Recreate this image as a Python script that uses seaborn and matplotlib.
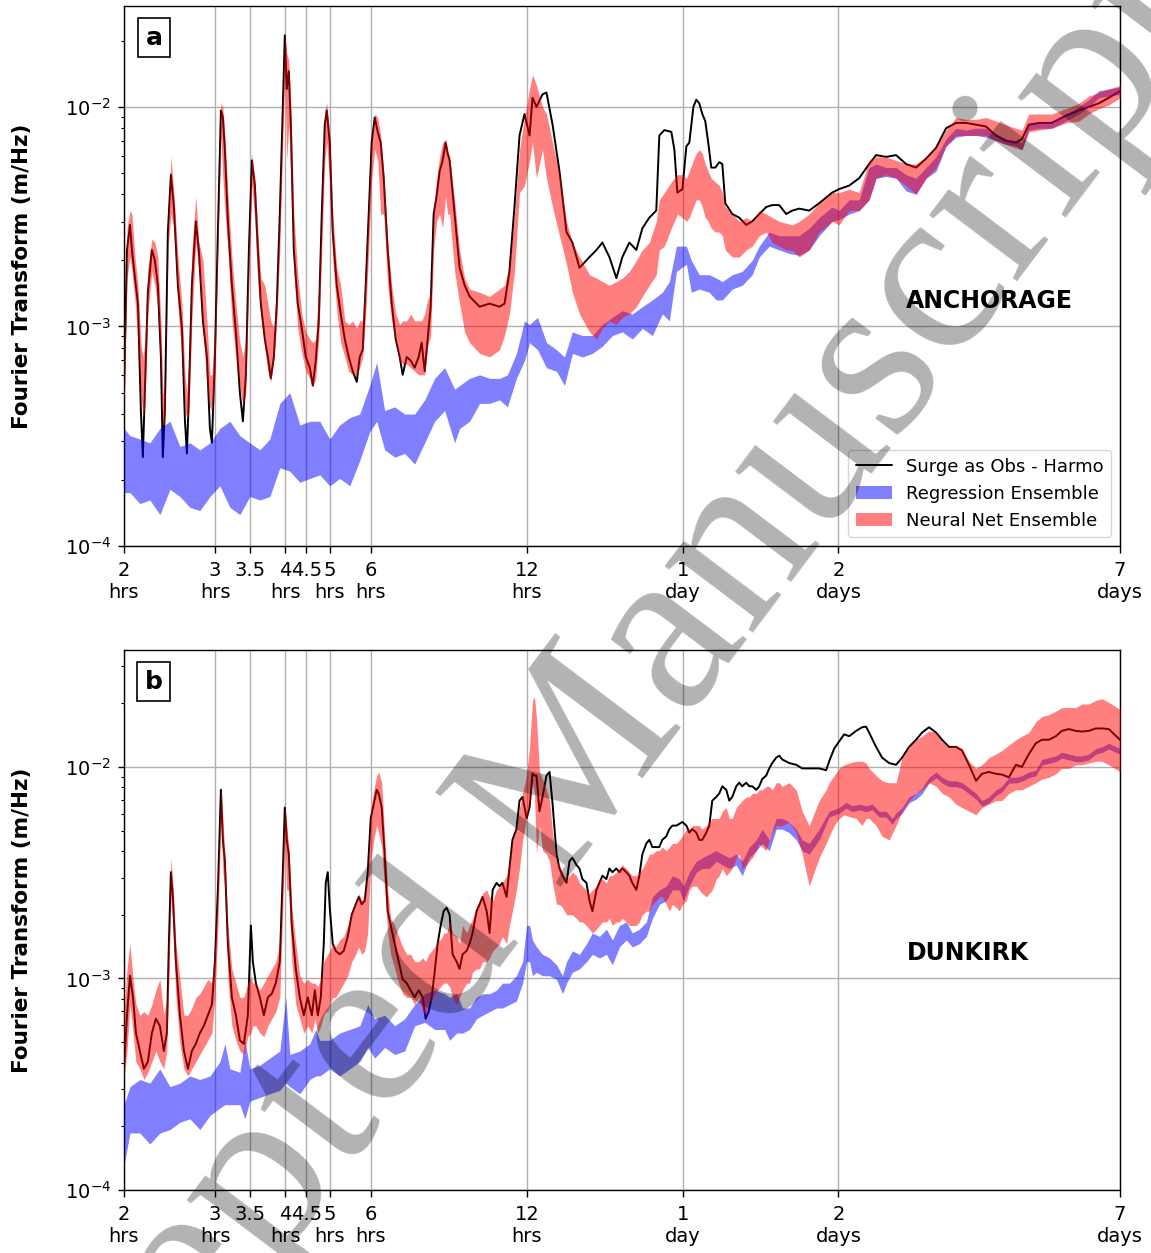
import matplotlib
matplotlib.use("Agg")
import matplotlib.pyplot as plt
import seaborn as sns
from matplotlib.ticker import NullLocator, NullFormatter, LogLocator

# ---------------- data (period in hours, spectral amplitude in m/Hz) ----------------
a_period = [2.000, 2.027, 2.054, 2.072, 2.100, 2.128, 2.156, 2.175, 2.194, 2.224,
            2.264, 2.294, 2.325, 2.357, 2.377, 2.399, 2.431, 2.464, 2.497, 2.542,
            2.588, 2.623, 2.646, 2.670, 2.705, 2.753, 2.790, 2.841, 2.892, 2.931,
            2.957, 2.997, 3.037, 3.078, 3.105, 3.133, 3.175, 3.232, 3.290, 3.349,
            3.394, 3.439, 3.486, 3.532, 3.580, 3.628, 3.676, 3.742, 3.793, 3.843,
            3.895, 3.947, 4.000, 4.054, 4.090, 4.126, 4.163, 4.201, 4.257, 4.333,
            4.411, 4.490, 4.571, 4.632, 4.694, 4.757, 4.821, 4.886, 4.929, 4.995,
            5.062, 5.153, 5.245, 5.340, 5.435, 5.533, 5.633, 5.708, 5.784, 5.862,
            5.941, 6.020, 6.101, 6.183, 6.266, 6.350, 6.464, 6.580, 6.698, 6.818,
            6.909, 7.034, 7.160, 7.288, 7.419, 7.518, 7.620, 7.722, 7.825, 7.930,
            8.036, 8.144, 8.253, 8.364, 8.439, 8.514, 8.706, 8.901, 9.101, 9.305,
            9.728, 10.17, 10.63, 10.87, 11.11, 11.36, 11.62, 11.88, 12.15, 12.31,
            12.53, 12.87, 13.10, 13.46, 13.88, 14.32, 14.70, 15.17, 15.86, 16.36,
            16.80, 17.33, 17.88, 18.36, 18.94, 19.54, 20.07, 20.70, 21.35, 21.64,
            22.13, 22.83, 23.14, 23.45, 23.98, 24.41, 24.73, 25.18, 25.51, 25.85,
            26.20, 26.55, 26.90, 27.27, 27.76, 28.26, 28.64, 29.02, 29.94, 30.88,
            31.86, 32.72, 33.75, 34.82, 35.76, 36.89, 38.06, 39.09, 40.32, 42.15,
            44.07, 46.69, 48.16, 50.35, 52.64, 55.03, 56.77, 59.35, 62.04, 64.87,
            67.81, 70.89, 74.11, 77.48, 81.00, 84.68, 88.53, 92.55, 96.75, 101.1,
            105.7, 108.6, 112.0, 117.1, 124.0, 132.0, 139.9, 146.2, 152.9, 159.8,
            168.0]
a_obs = [4.99e-4, 2.23e-3, 2.90e-3, 2.23e-3, 1.66e-3, 1.27e-3, 4.14e-4, 2.54e-4, 4.99e-4, 1.43e-3,
         2.23e-3, 2.00e-3, 1.54e-3, 7.26e-4, 2.54e-4, 4.14e-4, 2.69e-3, 4.91e-3, 3.50e-3, 1.54e-3,
         9.8e-4, 3.70e-4, 2.64e-4, 4.99e-4, 1.54e-3, 3.01e-3, 2.23e-3, 1.06e-3, 7.26e-4, 3.43e-4,
         2.95e-4, 7.26e-4, 2.69e-3, 9.63e-3, 8.94e-3, 6.38e-3, 3.01e-3, 1.54e-3, 9.44e-4, 4.99e-4,
         3.70e-4, 6.02e-4, 2.23e-3, 5.70e-3, 4.38e-3, 2.23e-3, 1.27e-3, 8.76e-4, 7.26e-4, 5.80e-4,
         7.26e-4, 1.27e-3, 3.25e-3, 1.0e-2, 2.115e-2, 1.206e-2, 1.455e-2, 8.29e-3, 2.23e-3, 1.27e-3,
         9.8e-4, 7.26e-4, 6.49e-4, 5.38e-4, 6.99e-4, 1.06e-3, 3.25e-3, 8.29e-3, 9.63e-3, 6.87e-3,
         2.69e-3, 1.54e-3, 1.14e-3, 8.76e-4, 7.26e-4, 6.25e-4, 5.59e-4, 7.26e-4, 7.83e-4, 1.54e-3,
         3.25e-3, 6.87e-3, 8.94e-3, 7.69e-3, 6.87e-3, 4.73e-3, 2.23e-3, 1.27e-3, 8.76e-4, 7.26e-4,
         6.02e-4, 7.26e-4, 6.99e-4, 6.49e-4, 7.26e-4, 8.44e-4, 6.25e-4, 8.76e-4, 1.23e-3, 3.25e-3,
         3.92e-3, 5.09e-3, 5.70e-3, 6.87e-3, 6.14e-3, 5.70e-3, 3.25e-3, 1.85e-3, 1.54e-3, 1.37e-3,
         1.23e-3, 1.27e-3, 1.23e-3, 1.27e-3, 1.78e-3, 3.50e-3, 7.41e-3, 9.28e-3, 7.41e-3, 1.10e-2,
         1.0e-2, 1.14e-2, 1.162e-2, 8.29e-3, 5.09e-3, 2.69e-3, 2.41e-3, 1.85e-3, 2.07e-3, 2.23e-3,
         2.41e-3, 2.07e-3, 1.66e-3, 2.07e-3, 2.41e-3, 2.23e-3, 2.80e-3, 3.13e-3, 3.37e-3, 7.41e-3,
         7.84e-3, 7.69e-3, 6.38e-3, 4.07e-3, 4.22e-3, 6.62e-3, 6.87e-3, 1.0e-2, 1.078e-2, 1.038e-2,
         9.28e-3, 8.61e-3, 6.87e-3, 5.29e-3, 5.29e-3, 5.60e-3, 5.49e-3, 3.64e-3, 3.25e-3, 3.13e-3,
         2.90e-3, 3.01e-3, 3.25e-3, 3.50e-3, 3.57e-3, 3.57e-3, 3.25e-3, 3.37e-3, 3.44e-3, 3.37e-3,
         3.64e-3, 4.07e-3, 4.22e-3, 4.38e-3, 4.73e-3, 5.49e-3, 6.03e-3, 5.92e-3, 6.03e-3, 5.49e-3,
         5.29e-3, 5.81e-3, 6.50e-3, 7.99e-3, 8.45e-3, 8.45e-3, 8.29e-3, 8.14e-3, 7.41e-3, 7.01e-3,
         6.87e-3, 7.14e-3, 8.29e-3, 8.45e-3, 8.45e-3, 9.11e-3, 9.63e-3, 1.0e-2, 1.038e-2, 1.10e-2,
         1.18e-2]
a_nn_hi = [7.26e-4, 2.80e-3, 3.37e-3, 3.25e-3, 2.07e-3, 1.54e-3, 8.44e-4, 7.26e-4, 8.44e-4, 1.85e-3,
           2.50e-3, 2.41e-3, 2.07e-3, 1.06e-3, 4.99e-4, 4.99e-4, 3.01e-3, 5.92e-3, 4.07e-3, 2.07e-3,
           1.27e-3, 6.02e-4, 4.99e-4, 7.26e-4, 2.23e-3, 3.92e-3, 2.41e-3, 2.00e-3, 1.06e-3, 6.02e-4,
           6.02e-4, 1.06e-3, 3.25e-3, 1.038e-2, 1.0e-2, 7.41e-3, 4.07e-3, 2.07e-3, 1.27e-3, 8.44e-4,
           7.26e-4, 8.76e-4, 2.69e-3, 6.14e-3, 4.73e-3, 2.69e-3, 1.66e-3, 1.54e-3, 1.27e-3, 1.06e-3,
           9.8e-4, 1.54e-3, 3.92e-3, 1.206e-2, 2.16e-2, 1.754e-2, 1.628e-2, 1.0e-2, 3.25e-3, 1.72e-3,
           1.14e-3, 9.44e-4, 8.76e-4, 8.44e-4, 8.76e-4, 1.54e-3, 3.92e-3, 9.63e-3, 1.038e-2, 7.41e-3,
           3.25e-3, 1.85e-3, 1.54e-3, 1.06e-3, 1.02e-3, 1.06e-3, 9.8e-4, 1.06e-3, 1.06e-3, 1.85e-3,
           3.92e-3, 7.41e-3, 9.28e-3, 8.94e-3, 7.41e-3, 5.09e-3, 2.41e-3, 1.54e-3, 1.14e-3, 1.02e-3,
           1.06e-3, 1.06e-3, 1.14e-3, 1.06e-3, 1.06e-3, 1.06e-3, 1.14e-3, 1.32e-3, 1.43e-3, 3.50e-3,
           4.73e-3, 5.92e-3, 6.87e-3, 7.14e-3, 6.38e-3, 5.92e-3, 3.77e-3, 2.23e-3, 1.66e-3, 1.48e-3,
           1.43e-3, 1.37e-3, 1.48e-3, 1.54e-3, 1.92e-3, 3.25e-3, 6.38e-3, 8.94e-3, 1.206e-2, 1.401e-2,
           1.252e-2, 1.0e-2, 9.28e-3, 6.87e-3, 4.91e-3, 3.01e-3, 2.41e-3, 2.07e-3, 1.72e-3, 1.66e-3,
           1.60e-3, 1.54e-3, 1.60e-3, 1.66e-3, 1.78e-3, 2.00e-3, 2.23e-3, 2.41e-3, 3.01e-3, 3.77e-3,
           4.07e-3, 4.55e-3, 4.73e-3, 4.91e-3, 4.91e-3, 4.73e-3, 5.09e-3, 5.70e-3, 6.14e-3, 6.38e-3,
           6.14e-3, 5.49e-3, 5.09e-3, 4.73e-3, 4.55e-3, 4.38e-3, 4.07e-3, 3.50e-3, 3.25e-3, 3.01e-3,
           3.13e-3, 3.01e-3, 3.37e-3, 3.25e-3, 3.13e-3, 3.01e-3, 2.95e-3, 2.90e-3, 3.01e-3, 3.25e-3,
           3.64e-3, 4.07e-3, 4.07e-3, 4.22e-3, 4.07e-3, 5.70e-3, 5.92e-3, 5.92e-3, 5.70e-3, 5.49e-3,
           5.49e-3, 5.92e-3, 6.62e-3, 7.84e-3, 8.94e-3, 8.77e-3, 8.77e-3, 8.94e-3, 8.61e-3, 8.29e-3,
           7.99e-3, 7.84e-3, 9.28e-3, 9.28e-3, 9.28e-3, 9.81e-3, 1.038e-2, 1.119e-2, 1.162e-2, 1.206e-2,
           1.252e-2]
a_nn_lo = [4.14e-4, 1.66e-3, 2.07e-3, 1.78e-3, 1.32e-3, 8.44e-4, 4.99e-4, 3.84e-4, 4.30e-4, 1.14e-3,
           1.78e-3, 1.54e-3, 1.23e-3, 5.80e-4, 3.43e-4, 3.70e-4, 2.23e-3, 3.25e-3, 2.80e-3, 1.23e-3,
           7.26e-4, 4.14e-4, 3.84e-4, 3.99e-4, 1.06e-3, 2.41e-3, 1.78e-3, 9.8e-4, 5.38e-4, 4.30e-4,
           4.14e-4, 6.02e-4, 2.23e-3, 7.41e-3, 4.73e-3, 3.37e-3, 2.23e-3, 1.06e-3, 7.26e-4, 5.38e-4,
           4.30e-4, 4.99e-4, 1.66e-3, 4.38e-3, 3.01e-3, 1.54e-3, 1.14e-3, 7.83e-4, 6.25e-4, 5.59e-4,
           6.99e-4, 1.06e-3, 2.23e-3, 6.87e-3, 1.455e-2, 5.70e-3, 8.29e-3, 4.73e-3, 1.78e-3, 9.8e-4,
           7.54e-4, 6.25e-4, 5.80e-4, 5.28e-4, 5.80e-4, 8.76e-4, 2.23e-3, 5.70e-3, 6.87e-3, 4.38e-3,
           2.00e-3, 1.18e-3, 8.44e-4, 7.26e-4, 6.25e-4, 6.02e-4, 6.02e-4, 6.49e-4, 7.26e-4, 1.14e-3,
           2.23e-3, 4.73e-3, 6.38e-3, 5.70e-3, 3.25e-3, 3.25e-3, 1.54e-3, 1.06e-3, 8.44e-4, 6.99e-4,
           6.74e-4, 6.74e-4, 6.49e-4, 6.25e-4, 6.02e-4, 6.02e-4, 6.02e-4, 8.13e-4, 9.09e-4, 2.23e-3,
           3.01e-3, 3.25e-3, 2.80e-3, 3.92e-3, 3.25e-3, 3.25e-3, 1.78e-3, 1.27e-3, 9.44e-4, 8.44e-4,
           7.54e-4, 7.26e-4, 7.83e-4, 9.09e-4, 1.14e-3, 1.78e-3, 4.07e-3, 4.38e-3, 5.70e-3, 6.87e-3,
           4.73e-3, 6.38e-3, 4.73e-3, 3.50e-3, 2.59e-3, 1.92e-3, 1.43e-3, 1.14e-3, 9.44e-4, 8.76e-4,
           9.8e-4, 1.06e-3, 1.02e-3, 1.10e-3, 1.14e-3, 1.23e-3, 1.37e-3, 1.54e-3, 1.72e-3, 2.23e-3,
           2.32e-3, 2.80e-3, 3.01e-3, 3.25e-3, 3.13e-3, 3.01e-3, 3.13e-3, 3.50e-3, 3.77e-3, 3.77e-3,
           3.50e-3, 3.13e-3, 3.01e-3, 2.80e-3, 2.69e-3, 2.69e-3, 2.59e-3, 2.23e-3, 2.07e-3, 2.07e-3,
           2.23e-3, 2.32e-3, 2.59e-3, 2.69e-3, 2.41e-3, 2.32e-3, 2.23e-3, 2.23e-3, 2.07e-3, 2.23e-3,
           2.69e-3, 3.01e-3, 2.90e-3, 3.37e-3, 3.37e-3, 3.77e-3, 4.73e-3, 4.91e-3, 4.73e-3, 4.38e-3,
           4.00e-3, 4.73e-3, 5.29e-3, 6.62e-3, 7.41e-3, 7.41e-3, 7.41e-3, 7.41e-3, 7.01e-3, 6.75e-3,
           6.50e-3, 6.38e-3, 7.69e-3, 7.84e-3, 7.99e-3, 8.45e-3, 8.61e-3, 9.28e-3, 9.81e-3, 1.02e-2,
           1.10e-2]

a_reg_period = [2.000, 2.054, 2.146, 2.244, 2.346, 2.453, 2.565, 2.681, 2.803, 2.931,
                3.064, 3.203, 3.349, 3.501, 3.660, 3.826, 4.000, 4.182, 4.372, 4.571,
                4.778, 4.995, 5.222, 5.460, 5.708, 5.967, 6.156, 6.378, 6.669, 6.971,
                7.288, 7.620, 7.965, 8.327, 8.706, 8.901, 9.305, 9.728, 10.17, 10.63,
                11.01, 11.46, 11.88, 12.15, 12.59, 13.10, 13.70, 14.19, 14.70, 15.37,
                16.07, 16.80, 17.56, 18.36, 19.19, 20.07, 20.98, 21.93, 22.63, 23.35,
                24.41, 24.95, 25.85, 27.03, 27.88, 28.64, 29.94, 31.29, 32.72, 33.75,
                35.29, 36.89, 38.57, 40.32, 42.15, 44.07, 46.69, 48.16, 50.35, 52.64,
                55.03, 56.77, 59.35, 62.04, 64.87, 67.81, 70.89, 74.11, 77.48, 81.00,
                84.68, 88.53, 92.55, 96.75, 101.1, 105.7, 108.6, 112.0, 117.1, 124.0,
                132.0, 139.9, 146.2, 152.9, 159.8, 168.0]
a_reg_hi = [3.43e-4, 3.18e-4, 3.07e-4, 2.95e-4, 3.43e-4, 3.70e-4, 2.84e-4, 2.95e-4, 2.74e-4, 2.95e-4,
            3.43e-4, 3.70e-4, 3.18e-4, 2.95e-4, 2.74e-4, 3.07e-4, 4.46e-4, 4.99e-4, 3.56e-4, 3.70e-4,
            3.70e-4, 3.07e-4, 3.56e-4, 3.84e-4, 3.99e-4, 5.38e-4, 6.86e-4, 4.14e-4, 4.30e-4, 3.99e-4,
            3.99e-4, 4.63e-4, 5.80e-4, 6.49e-4, 5.18e-4, 5.38e-4, 5.80e-4, 6.02e-4, 5.80e-4, 5.80e-4,
            6.02e-4, 7.54e-4, 1.06e-3, 1.02e-3, 1.10e-3, 8.44e-4, 7.83e-4, 7.26e-4, 9.44e-4, 9.09e-4,
            9.09e-4, 1.02e-3, 1.10e-3, 1.18e-3, 1.14e-3, 1.23e-3, 1.32e-3, 1.43e-3, 1.60e-3, 2.32e-3,
            2.32e-3, 2.00e-3, 1.72e-3, 1.72e-3, 1.66e-3, 1.60e-3, 1.72e-3, 1.78e-3, 2.00e-3, 2.32e-3,
            2.69e-3, 2.59e-3, 2.59e-3, 2.59e-3, 2.80e-3, 3.13e-3, 3.50e-3, 3.37e-3, 3.77e-3, 3.77e-3,
            5.29e-3, 5.49e-3, 5.29e-3, 5.29e-3, 4.91e-3, 4.73e-3, 5.29e-3, 5.92e-3, 7.14e-3, 7.99e-3,
            7.84e-3, 7.99e-3, 7.99e-3, 7.55e-3, 7.14e-3, 7.01e-3, 6.87e-3, 8.45e-3, 8.45e-3, 8.61e-3,
            9.28e-3, 1.0e-2, 1.078e-2, 1.184e-2, 1.206e-2, 1.23e-2]
a_reg_lo = [1.75e-4, 1.75e-4, 1.56e-4, 1.62e-4, 1.39e-4, 1.81e-4, 1.68e-4, 1.50e-4, 1.45e-4, 1.68e-4,
            1.88e-4, 1.50e-4, 1.39e-4, 1.68e-4, 1.62e-4, 1.68e-4, 2.27e-4, 2.19e-4, 1.95e-4, 2.03e-4,
            2.11e-4, 1.88e-4, 2.03e-4, 1.88e-4, 2.45e-4, 3.31e-4, 3.70e-4, 2.74e-4, 2.54e-4, 2.64e-4,
            2.36e-4, 2.95e-4, 3.70e-4, 4.14e-4, 2.95e-4, 3.43e-4, 3.70e-4, 4.46e-4, 4.46e-4, 4.63e-4,
            4.30e-4, 5.80e-4, 6.99e-4, 8.44e-4, 7.83e-4, 6.49e-4, 6.25e-4, 5.38e-4, 7.54e-4, 7.26e-4,
            7.54e-4, 8.13e-4, 9.09e-4, 9.44e-4, 8.76e-4, 9.8e-4, 9.09e-4, 1.14e-3, 1.06e-3, 1.78e-3,
            1.92e-3, 1.43e-3, 1.48e-3, 1.43e-3, 1.32e-3, 1.32e-3, 1.48e-3, 1.54e-3, 1.72e-3, 2.07e-3,
            2.32e-3, 2.23e-3, 2.15e-3, 2.11e-3, 2.23e-3, 2.59e-3, 3.01e-3, 3.07e-3, 3.25e-3, 3.37e-3,
            3.77e-3, 4.73e-3, 4.82e-3, 4.73e-3, 4.14e-3, 4.00e-3, 4.73e-3, 5.09e-3, 6.62e-3, 7.28e-3,
            7.41e-3, 7.41e-3, 7.28e-3, 7.01e-3, 6.75e-3, 6.62e-3, 6.38e-3, 7.84e-3, 7.99e-3, 7.99e-3,
            8.61e-3, 9.28e-3, 1.0e-2, 1.10e-2, 1.119e-2, 1.14e-2]

b_period = [2.000, 2.027, 2.054, 2.082, 2.109, 2.146, 2.185, 2.224, 2.264, 2.305,
            2.346, 2.388, 2.420, 2.442, 2.464, 2.486, 2.519, 2.565, 2.611, 2.658,
            2.705, 2.753, 2.803, 2.853, 2.904, 2.957, 2.997, 3.037, 3.078, 3.105,
            3.133, 3.175, 3.232, 3.290, 3.349, 3.409, 3.470, 3.517, 3.548, 3.596,
            3.660, 3.726, 3.793, 3.860, 3.929, 4.000, 4.054, 4.090, 4.126, 4.163,
            4.219, 4.295, 4.372, 4.451, 4.530, 4.612, 4.674, 4.737, 4.800, 4.864,
            4.907, 4.951, 4.995, 5.062, 5.130, 5.222, 5.316, 5.411, 5.509, 5.607,
            5.683, 5.759, 5.836, 5.915, 5.994, 6.074, 6.156, 6.210, 6.294, 6.378,
            6.464, 6.551, 6.669, 6.788, 6.909, 7.034, 7.160, 7.288, 7.419, 7.552,
            7.653, 7.756, 7.859, 7.965, 8.072, 8.181, 8.291, 8.401, 8.514, 8.628,
            8.783, 8.901, 9.020, 9.182, 9.305, 9.430, 9.599, 9.728, 9.858, 10.04,
            10.17, 10.31, 10.49, 10.63, 10.77, 10.97, 11.11, 11.26, 11.46, 11.62,
            11.78, 11.99, 12.15, 12.31, 12.42, 12.53, 12.70, 12.87, 13.10, 13.28,
            13.46, 13.70, 13.88, 14.07, 14.32, 14.51, 14.70, 14.97, 15.17, 15.37,
            15.65, 15.86, 16.07, 16.36, 16.58, 16.80, 17.10, 17.33, 17.56, 17.88,
            18.12, 18.36, 18.69, 18.94, 19.19, 19.54, 19.80, 20.07, 20.43, 20.70,
            20.98, 21.35, 21.64, 21.93, 22.32, 22.63, 22.93, 23.35, 23.66, 23.98,
            24.41, 24.73, 25.06, 25.51, 25.85, 26.20, 26.67, 27.03, 27.39, 27.88,
            28.26, 28.64, 29.15, 29.54, 29.94, 30.47, 30.88, 31.29, 31.86, 32.29,
            32.72, 33.31, 33.75, 34.20, 34.82, 35.29, 35.76, 36.40, 36.89, 37.38,
            38.57, 39.79, 40.86, 42.15, 44.07, 45.46, 46.07, 47.11, 48.16, 49.24,
            50.35, 51.94, 53.35, 54.30, 55.03, 56.77, 58.30, 60.14, 62.04, 63.72,
            65.73, 67.81, 69.64, 71.84, 74.11, 76.12, 78.52, 81.00, 83.19, 85.82,
            88.53, 90.91, 93.79, 96.75, 99.36, 102.5, 105.7, 108.6, 112.0, 115.5,
            118.7, 122.4, 126.3, 129.7, 133.8, 138.0, 141.8, 146.2, 150.8, 154.9,
            159.8, 168.0]
b_obs = [3.74e-4, 6.70e-4, 1.03e-3, 8.14e-4, 5.52e-4, 4.54e-4, 3.74e-4, 4.04e-4, 5.52e-4, 6.45e-4,
         5.97e-4, 4.54e-4, 5.52e-4, 1.46e-3, 3.18e-3, 2.43e-3, 1.20e-3, 6.70e-4, 4.54e-4, 3.74e-4,
         4.54e-4, 4.91e-4, 5.52e-4, 5.97e-4, 6.70e-4, 7.53e-4, 1.20e-3, 2.62e-3, 7.79e-3, 4.52e-3,
         3.58e-3, 1.46e-3, 8.14e-4, 6.70e-4, 5.10e-4, 4.91e-4, 6.70e-4, 1.78e-3, 1.20e-3, 9.5e-4,
         8.14e-4, 6.70e-4, 8.14e-4, 8.47e-4, 9.5e-4, 1.20e-3, 3.18e-3, 6.42e-3, 4.52e-3, 3.87e-3,
         1.78e-3, 1.11e-3, 8.14e-4, 6.70e-4, 8.14e-4, 6.70e-4, 8.80e-4, 6.70e-4, 8.14e-4, 1.46e-3,
         2.83e-3, 3.18e-3, 2.16e-3, 1.46e-3, 1.35e-3, 1.30e-3, 1.35e-3, 1.58e-3, 2.00e-3, 2.24e-3,
         2.43e-3, 2.24e-3, 2.33e-3, 3.18e-3, 5.71e-3, 6.67e-3, 7.79e-3, 7.50e-3, 6.42e-3, 3.87e-3,
         2.08e-3, 1.78e-3, 1.46e-3, 1.20e-3, 9.9e-4, 9.5e-4, 8.80e-4, 8.14e-4, 8.80e-4, 8.14e-4,
         6.45e-4, 6.97e-4, 8.14e-4, 1.07e-3, 1.46e-3, 1.78e-3, 2.08e-3, 2.16e-3, 2.00e-3, 1.30e-3,
         1.20e-3, 1.11e-3, 1.30e-3, 1.35e-3, 1.46e-3, 1.64e-3, 2.08e-3, 2.24e-3, 2.43e-3, 2.08e-3,
         1.64e-3, 2.62e-3, 2.83e-3, 2.73e-3, 2.83e-3, 2.43e-3, 3.31e-3, 4.52e-3, 5.08e-3, 6.93e-3,
         7.21e-3, 5.71e-3, 6.42e-3, 9.3e-3, 9.10e-3, 9.10e-3, 6.17e-3, 7.21e-3, 9.10e-3, 9.46e-3,
         6.67e-3, 3.87e-3, 3.31e-3, 3.06e-3, 2.83e-3, 3.58e-3, 3.72e-3, 3.44e-3, 3.31e-3, 2.95e-3,
         2.83e-3, 2.33e-3, 2.08e-3, 2.62e-3, 2.83e-3, 3.06e-3, 2.95e-3, 3.31e-3, 3.18e-3, 3.31e-3,
         3.18e-3, 3.31e-3, 3.18e-3, 3.06e-3, 2.83e-3, 2.62e-3, 3.06e-3, 3.87e-3, 4.35e-3, 4.52e-3,
         4.18e-3, 4.18e-3, 4.18e-3, 4.52e-3, 4.70e-3, 5.08e-3, 5.28e-3, 5.28e-3, 5.38e-3, 5.49e-3,
         5.28e-3, 4.89e-3, 5.08e-3, 4.89e-3, 4.52e-3, 4.52e-3, 4.89e-3, 5.28e-3, 6.93e-3, 7.21e-3,
         7.50e-3, 8.10e-3, 7.79e-3, 6.93e-3, 7.21e-3, 8.10e-3, 8.42e-3, 8.10e-3, 8.42e-3, 8.10e-3,
         8.10e-3, 7.79e-3, 8.10e-3, 8.76e-3, 9.10e-3, 9.84e-3, 1.043e-2, 1.106e-2, 1.13e-2, 1.085e-2,
         1.043e-2, 1.023e-2, 9.84e-3, 9.84e-3, 9.84e-3, 9.65e-3, 1.064e-2, 1.22e-2, 1.32e-2, 1.425e-2,
         1.397e-2, 1.48e-2, 1.54e-2, 1.55e-2, 1.453e-2, 1.243e-2, 1.106e-2, 1.043e-2, 1.023e-2, 1.106e-2,
         1.243e-2, 1.344e-2, 1.453e-2, 1.54e-2, 1.453e-2, 1.344e-2, 1.243e-2, 1.243e-2, 1.196e-2, 1.023e-2,
         8.6e-3, 9.28e-3, 9.46e-3, 9.28e-3, 9.2e-3, 8.93e-3, 1.023e-2, 1.0e-2, 1.150e-2, 1.293e-2,
         1.344e-2, 1.344e-2, 1.397e-2, 1.48e-2, 1.510e-2, 1.48e-2, 1.47e-2, 1.48e-2, 1.52e-2, 1.52e-2,
         1.510e-2, 1.344e-2]
b_nn_hi = [6.70e-4, 1.11e-3, 1.46e-3, 9.9e-4, 7.53e-4, 6.70e-4, 6.97e-4, 6.70e-4, 7.53e-4, 8.80e-4,
           9.9e-4, 6.70e-4, 8.14e-4, 1.78e-3, 3.72e-3, 2.83e-3, 1.46e-3, 9.9e-4, 6.70e-4, 6.70e-4,
           7.25e-4, 8.14e-4, 8.47e-4, 9.15e-4, 9.9e-4, 9.5e-4, 1.46e-3, 3.18e-3, 8.10e-3, 5.71e-3,
           3.87e-3, 1.78e-3, 1.11e-3, 9.5e-4, 8.14e-4, 8.14e-4, 9.5e-4, 1.03e-3, 9.5e-4, 9.5e-4,
           8.80e-4, 9.5e-4, 1.03e-3, 1.11e-3, 1.20e-3, 1.46e-3, 3.87e-3, 6.67e-3, 5.28e-3, 4.18e-3,
           2.16e-3, 1.46e-3, 1.03e-3, 9.5e-4, 9.9e-4, 9.5e-4, 9.5e-4, 9.15e-4, 9.9e-4, 1.20e-3,
           1.25e-3, 1.30e-3, 1.35e-3, 1.46e-3, 1.41e-3, 1.52e-3, 1.58e-3, 1.78e-3, 2.08e-3, 2.33e-3,
           2.52e-3, 2.33e-3, 2.43e-3, 3.31e-3, 6.17e-3, 7.79e-3, 9.10e-3, 9.46e-3, 8.42e-3, 4.70e-3,
           2.62e-3, 1.92e-3, 1.78e-3, 1.58e-3, 1.41e-3, 1.30e-3, 1.30e-3, 1.20e-3, 1.20e-3, 1.25e-3,
           1.20e-3, 1.30e-3, 1.35e-3, 1.41e-3, 1.52e-3, 1.52e-3, 1.64e-3, 1.64e-3, 1.85e-3, 1.64e-3,
           1.58e-3, 1.46e-3, 1.78e-3, 1.64e-3, 1.78e-3, 1.92e-3, 2.16e-3, 2.33e-3, 2.52e-3, 2.62e-3,
           2.43e-3, 2.33e-3, 2.62e-3, 2.73e-3, 2.83e-3, 3.06e-3, 3.58e-3, 4.52e-3, 5.28e-3, 6.42e-3,
           7.50e-3, 9.10e-3, 1.243e-2, 2.062e-2, 2.144e-2, 1.698e-2, 9.46e-3, 8.76e-3, 7.79e-3, 6.93e-3,
           4.89e-3, 3.58e-3, 3.44e-3, 3.18e-3, 2.95e-3, 3.06e-3, 3.18e-3, 3.06e-3, 2.83e-3, 2.73e-3,
           2.62e-3, 2.52e-3, 2.62e-3, 2.73e-3, 2.95e-3, 2.95e-3, 2.83e-3, 3.06e-3, 3.06e-3, 3.18e-3,
           3.31e-3, 3.44e-3, 3.31e-3, 3.18e-3, 3.06e-3, 3.06e-3, 3.18e-3, 3.31e-3, 3.58e-3, 3.87e-3,
           3.87e-3, 4.02e-3, 4.02e-3, 4.18e-3, 4.02e-3, 4.18e-3, 4.35e-3, 4.35e-3, 4.52e-3, 4.70e-3,
           5.08e-3, 5.08e-3, 5.28e-3, 5.28e-3, 5.28e-3, 5.08e-3, 5.28e-3, 5.49e-3, 5.71e-3, 5.71e-3,
           5.71e-3, 6.17e-3, 6.42e-3, 5.71e-3, 5.71e-3, 6.42e-3, 6.67e-3, 6.93e-3, 7.21e-3, 7.21e-3,
           7.50e-3, 7.50e-3, 7.79e-3, 7.79e-3, 8.10e-3, 8.10e-3, 7.79e-3, 8.42e-3, 8.42e-3, 8.10e-3,
           8.42e-3, 7.79e-3, 6.17e-3, 5.28e-3, 6.93e-3, 7.79e-3, 8.42e-3, 9.10e-3, 9.84e-3, 1.023e-2,
           1.043e-2, 1.064e-2, 1.064e-2, 1.043e-2, 9.84e-3, 9.10e-3, 8.6e-3, 8.42e-3, 8.42e-3, 1.106e-2,
           1.243e-2, 1.344e-2, 1.397e-2, 1.48e-2, 1.453e-2, 1.32e-2, 1.243e-2, 1.268e-2, 1.22e-2, 1.064e-2,
           9.84e-3, 1.023e-2, 1.106e-2, 1.150e-2, 1.196e-2, 1.268e-2, 1.344e-2, 1.397e-2, 1.453e-2, 1.633e-2,
           1.73e-2, 1.765e-2, 1.835e-2, 1.908e-2, 1.908e-2, 1.908e-2, 1.984e-2, 1.984e-2, 2.062e-2, 2.10e-2,
           2.02e-2, 1.87e-2]
b_nn_lo = [3.33e-4, 4.54e-4, 7.53e-4, 5.52e-4, 4.04e-4, 3.74e-4, 3.33e-4, 3.60e-4, 4.04e-4, 4.54e-4,
           4.04e-4, 3.74e-4, 4.54e-4, 9.9e-4, 2.43e-3, 1.78e-3, 8.14e-4, 4.91e-4, 3.74e-4, 3.46e-4,
           3.74e-4, 4.04e-4, 4.37e-4, 4.72e-4, 5.10e-4, 5.52e-4, 8.14e-4, 1.78e-3, 5.71e-3, 3.18e-3,
           2.62e-3, 9.9e-4, 5.97e-4, 5.10e-4, 4.54e-4, 4.37e-4, 5.31e-4, 5.52e-4, 5.97e-4, 5.97e-4,
           5.52e-4, 5.31e-4, 5.97e-4, 6.45e-4, 6.97e-4, 8.14e-4, 2.16e-3, 4.52e-3, 2.62e-3, 2.62e-3,
           1.20e-3, 7.53e-4, 6.45e-4, 5.52e-4, 5.97e-4, 5.52e-4, 6.45e-4, 5.52e-4, 5.97e-4, 6.70e-4,
           6.97e-4, 6.97e-4, 7.53e-4, 8.14e-4, 8.14e-4, 8.80e-4, 9.5e-4, 1.03e-3, 1.20e-3, 1.30e-3,
           1.41e-3, 1.30e-3, 1.35e-3, 1.64e-3, 3.58e-3, 4.52e-3, 5.28e-3, 4.89e-3, 4.18e-3, 2.62e-3,
           1.64e-3, 1.30e-3, 1.11e-3, 9.5e-4, 8.47e-4, 8.14e-4, 8.14e-4, 7.53e-4, 8.14e-4, 6.97e-4,
           6.70e-4, 7.83e-4, 7.83e-4, 8.47e-4, 8.80e-4, 9.15e-4, 9.5e-4, 9.5e-4, 9.15e-4, 8.14e-4,
           7.53e-4, 8.14e-4, 8.80e-4, 9.5e-4, 9.5e-4, 1.07e-3, 1.11e-3, 1.11e-3, 1.20e-3, 1.20e-3,
           1.25e-3, 1.35e-3, 1.41e-3, 1.46e-3, 1.58e-3, 1.46e-3, 1.78e-3, 2.08e-3, 2.62e-3, 3.31e-3,
           4.52e-3, 5.71e-3, 6.67e-3, 8.42e-3, 7.50e-3, 3.87e-3, 5.28e-3, 4.02e-3, 3.87e-3, 3.58e-3,
           2.83e-3, 2.24e-3, 2.24e-3, 2.16e-3, 2.00e-3, 2.00e-3, 2.00e-3, 1.92e-3, 1.85e-3, 1.85e-3,
           1.78e-3, 1.71e-3, 1.64e-3, 1.71e-3, 1.78e-3, 1.85e-3, 1.85e-3, 1.92e-3, 1.78e-3, 1.85e-3,
           1.85e-3, 1.92e-3, 1.85e-3, 1.78e-3, 1.78e-3, 1.78e-3, 1.85e-3, 2.00e-3, 2.08e-3, 2.08e-3,
           2.24e-3, 2.33e-3, 2.43e-3, 2.43e-3, 2.24e-3, 2.08e-3, 2.24e-3, 2.16e-3, 2.08e-3, 2.24e-3,
           2.33e-3, 2.62e-3, 2.73e-3, 2.73e-3, 2.62e-3, 2.52e-3, 2.43e-3, 2.52e-3, 2.62e-3, 2.95e-3,
           3.06e-3, 3.31e-3, 3.06e-3, 3.18e-3, 3.31e-3, 3.72e-3, 3.87e-3, 3.31e-3, 3.44e-3, 3.58e-3,
           3.72e-3, 4.02e-3, 4.35e-3, 4.18e-3, 4.02e-3, 4.52e-3, 4.89e-3, 5.28e-3, 5.28e-3, 5.28e-3,
           5.49e-3, 4.89e-3, 3.87e-3, 2.73e-3, 3.72e-3, 4.35e-3, 4.70e-3, 5.28e-3, 5.71e-3, 5.94e-3,
           5.82e-3, 5.71e-3, 5.28e-3, 5.71e-3, 5.71e-3, 5.28e-3, 4.70e-3, 4.52e-3, 5.28e-3, 6.17e-3,
           6.93e-3, 7.50e-3, 7.79e-3, 8.42e-3, 8.10e-3, 7.50e-3, 7.21e-3, 6.67e-3, 6.42e-3, 6.17e-3,
           5.94e-3, 6.42e-3, 6.67e-3, 6.93e-3, 6.93e-3, 7.50e-3, 7.79e-3, 7.79e-3, 8.10e-3, 8.42e-3,
           8.76e-3, 8.93e-3, 9.28e-3, 9.84e-3, 9.84e-3, 1.023e-2, 1.023e-2, 1.043e-2, 1.064e-2, 1.064e-2,
           1.023e-2, 9.5e-3]

b_reg_period = [2.000, 2.054, 2.146, 2.244, 2.346, 2.453, 2.565, 2.681, 2.803, 2.931,
                3.064, 3.133, 3.203, 3.349, 3.424, 3.501, 3.660, 3.826, 4.000, 4.108,
                4.182, 4.372, 4.571, 4.694, 4.778, 4.995, 5.222, 5.460, 5.708, 5.915,
                6.101, 6.378, 6.669, 6.971, 7.288, 7.620, 7.965, 8.327, 8.514, 8.783,
                9.020, 9.305, 9.599, 9.858, 10.17, 10.49, 10.77, 11.11, 11.46, 11.78,
                11.99, 12.15, 12.31, 12.53, 12.87, 13.28, 13.70, 14.07, 14.32, 14.70,
                15.17, 15.65, 16.07, 16.58, 17.10, 17.56, 18.12, 18.69, 19.19, 19.80,
                20.43, 20.98, 21.64, 22.32, 22.93, 23.66, 24.09, 24.73, 25.51, 26.20,
                27.03, 27.88, 28.64, 29.54, 30.47, 31.29, 32.29, 33.31, 34.20, 35.29,
                36.40, 37.38, 38.57, 39.79, 40.86, 42.15, 44.07, 46.07, 48.16, 49.68,
                51.03, 52.64, 54.30, 55.77, 57.53, 59.35, 60.95, 62.04, 63.72, 65.73,
                67.81, 69.64, 71.84, 74.11, 76.12, 78.52, 81.00, 83.19, 85.82, 88.53,
                90.91, 93.79, 96.75, 99.36, 102.5, 105.7, 108.6, 112.0, 115.5, 118.7,
                122.4, 126.3, 129.7, 133.8, 138.0, 141.8, 146.2, 150.8, 154.9, 159.8,
                168.0]
b_reg_hi = [2.53e-4, 3.08e-4, 3.33e-4, 3.20e-4, 3.74e-4, 3.08e-4, 3.20e-4, 3.46e-4, 3.33e-4, 3.46e-4,
            4.04e-4, 4.91e-4, 3.74e-4, 3.60e-4, 5.10e-4, 3.74e-4, 3.89e-4, 4.20e-4, 4.54e-4, 8.14e-4,
            4.37e-4, 4.54e-4, 4.91e-4, 5.74e-4, 5.10e-4, 5.10e-4, 5.52e-4, 5.74e-4, 5.97e-4, 7.53e-4,
            6.45e-4, 6.70e-4, 5.97e-4, 6.45e-4, 7.53e-4, 8.47e-4, 8.80e-4, 8.47e-4, 8.14e-4, 8.47e-4,
            7.25e-4, 7.25e-4, 8.14e-4, 8.47e-4, 8.47e-4, 8.80e-4, 9.5e-4, 9.5e-4, 1.03e-3, 1.20e-3,
            1.78e-3, 1.78e-3, 1.52e-3, 1.41e-3, 1.30e-3, 1.25e-3, 1.16e-3, 1.03e-3, 1.20e-3, 1.35e-3,
            1.30e-3, 1.46e-3, 1.64e-3, 1.58e-3, 1.71e-3, 1.52e-3, 1.78e-3, 1.85e-3, 1.64e-3, 1.71e-3,
            1.85e-3, 2.43e-3, 2.62e-3, 2.73e-3, 3.06e-3, 2.95e-3, 2.73e-3, 3.18e-3, 3.58e-3, 3.72e-3,
            3.87e-3, 4.02e-3, 3.87e-3, 3.72e-3, 3.87e-3, 3.58e-3, 4.18e-3, 4.52e-3, 5.08e-3, 4.52e-3,
            5.71e-3, 5.71e-3, 5.49e-3, 5.08e-3, 4.52e-3, 4.35e-3, 5.08e-3, 6.17e-3, 6.42e-3, 6.80e-3,
            6.55e-3, 6.67e-3, 6.55e-3, 6.67e-3, 6.17e-3, 6.17e-3, 5.71e-3, 6.05e-3, 6.42e-3, 7.21e-3,
            7.50e-3, 7.95e-3, 8.93e-3, 9.46e-3, 8.93e-3, 8.6e-3, 8.6e-3, 8.42e-3, 7.95e-3, 7.50e-3,
            6.93e-3, 7.21e-3, 7.79e-3, 8.10e-3, 8.93e-3, 8.93e-3, 9.10e-3, 9.46e-3, 9.65e-3, 1.085e-2,
            1.106e-2, 1.128e-2, 1.173e-2, 1.150e-2, 1.128e-2, 1.128e-2, 1.150e-2, 1.22e-2, 1.243e-2, 1.293e-2,
            1.22e-2]
b_reg_lo = [1.31e-4, 1.86e-4, 1.86e-4, 1.65e-4, 1.86e-4, 1.93e-4, 2.09e-4, 2.17e-4, 1.93e-4, 2.25e-4,
            2.44e-4, 2.53e-4, 2.53e-4, 2.53e-4, 2.17e-4, 2.63e-4, 2.74e-4, 2.85e-4, 2.96e-4, 3.20e-4,
            3.08e-4, 2.85e-4, 3.33e-4, 3.46e-4, 3.46e-4, 3.74e-4, 3.46e-4, 3.74e-4, 4.04e-4, 4.72e-4,
            4.20e-4, 4.72e-4, 4.37e-4, 4.54e-4, 5.97e-4, 6.20e-4, 5.74e-4, 5.74e-4, 5.10e-4, 5.52e-4,
            5.52e-4, 5.74e-4, 6.45e-4, 6.70e-4, 6.97e-4, 7.25e-4, 7.25e-4, 7.53e-4, 7.83e-4, 9.5e-4,
            1.20e-3, 1.20e-3, 1.03e-3, 1.07e-3, 1.03e-3, 1.03e-3, 9.9e-4, 8.47e-4, 9.5e-4, 1.07e-3,
            1.11e-3, 1.20e-3, 1.30e-3, 1.25e-3, 1.30e-3, 1.16e-3, 1.41e-3, 1.52e-3, 1.41e-3, 1.46e-3,
            1.58e-3, 1.92e-3, 2.24e-3, 2.33e-3, 2.62e-3, 2.62e-3, 2.33e-3, 2.73e-3, 3.18e-3, 3.31e-3,
            3.31e-3, 3.58e-3, 3.44e-3, 3.31e-3, 3.44e-3, 3.06e-3, 3.72e-3, 4.02e-3, 4.35e-3, 4.02e-3,
            5.08e-3, 5.08e-3, 4.89e-3, 4.52e-3, 4.02e-3, 3.87e-3, 4.52e-3, 5.80e-3, 6.04e-3, 6.39e-3,
            6.15e-3, 6.27e-3, 6.15e-3, 6.27e-3, 5.80e-3, 5.80e-3, 5.36e-3, 5.69e-3, 6.04e-3, 6.77e-3,
            7.04e-3, 7.47e-3, 8.39e-3, 8.89e-3, 8.39e-3, 8.07e-3, 8.07e-3, 7.91e-3, 7.47e-3, 7.04e-3,
            6.52e-3, 6.77e-3, 7.33e-3, 7.62e-3, 8.39e-3, 8.39e-3, 8.56e-3, 8.89e-3, 9.07e-3, 1.02e-2,
            1.04e-2, 1.06e-2, 1.10e-2, 1.08e-2, 1.06e-2, 1.06e-2, 1.08e-2, 1.148e-2, 1.17e-2, 1.215e-2,
            1.148e-2]

tick_hours = [2, 3, 3.5, 4.1, 4.5, 5, 6, 12, 24, 48, 168]
tick_labels = ["2\nhrs", "3\nhrs", "3.5", "4\nhrs", "4.5", "5\nhrs", "6\nhrs",
               "12\nhrs", "1\nday", "2\ndays", "7\ndays"]
legend_labels = ["Surge as Obs - Harmo", "Regression Ensemble", "Neural Net Ensemble"]
site_names = ["ANCHORAGE", "DUNKIRK"]
panel_tags = ["a", "b"]
y_label = "Fourier Transform (m/Hz)"
watermark = "Accepted Manuscript"

# ---------------- style ----------------
sns.set_theme(style="ticks")
plt.rcParams['font.family'] = ['DejaVu Sans']
plt.rcParams.update({
    'axes.linewidth': 1.0,
    'axes.edgecolor': 'black',
    'text.color': 'black',
    'axes.labelcolor': 'black',
    'xtick.color': 'black',
    'ytick.color': 'black',
})

W, H = 1151, 1253
fig = plt.figure(figsize=(W / 100, H / 100), dpi=100)
fig.patch.set_facecolor('white')

ax_a = fig.add_axes([124 / W, 1 - 546 / H, 996 / W, 540 / H])
ax_b = fig.add_axes([124 / W, 1 - 1190 / H, 996 / W, 540 / H])


def draw(ax, period, obs, nn_lo, nn_hi, reg_period, reg_lo, reg_hi, ylim, site, site_xy, tag, legend):
    sns.lineplot(x=period, y=obs, color='black', linewidth=1.4, ax=ax, sort=False,
                 estimator=None, label=legend_labels[0], zorder=2)
    ax.fill_between(reg_period, reg_lo, reg_hi, color='blue', alpha=0.5, linewidth=0,
                    label=legend_labels[1], zorder=3)
    ax.fill_between(period, nn_lo, nn_hi, color='red', alpha=0.5, linewidth=0,
                    label=legend_labels[2], zorder=4)
    ax.set_xscale('log')
    ax.set_yscale('log')
    ax.set_xlim(2, 168)
    ax.set_ylim(*ylim)
    ax.set_xticks(tick_hours)
    ax.set_xticklabels(tick_labels)
    ax.xaxis.set_minor_locator(NullLocator())
    ax.yaxis.set_major_locator(LogLocator(base=10))
    ax.yaxis.set_minor_formatter(NullFormatter())
    ax.tick_params(axis='x', which='major', labelsize=14, length=5, width=1, pad=6,
                   color='black', labelcolor='black', direction='out')
    ax.tick_params(axis='y', which='major', labelsize=14, length=4.5, width=1, pad=5,
                   color='black', labelcolor='black', direction='out')
    ax.tick_params(axis='y', which='minor', length=2.5, width=0.8, color='black', left=True)
    ax.grid(True, which='major', color='#b0b0b0', linewidth=1.0, zorder=0)
    ax.set_axisbelow(True)
    for s in ax.spines.values():
        s.set_visible(True)
        s.set_color('black')
        s.set_linewidth(1.0)
    ax.set_xlabel('')
    ax.set_ylabel(y_label, fontsize=15.5, fontweight='bold', color='black')
    ax.yaxis.set_label_coords(-0.092, 0.5)
    ax.text(site_xy[0], site_xy[1], site, transform=ax.transAxes, fontsize=17,
            fontweight='bold', ha='center', va='center', color='black', zorder=6)
    ax.text(0.030, 0.941, tag, transform=ax.transAxes, fontsize=18, fontweight='bold',
            ha='center', va='center', color='black', zorder=6,
            bbox=dict(boxstyle='square,pad=0.3', fc='white', ec='black', lw=1.2))
    if legend:
        ax.legend(loc='lower right', fontsize=13, frameon=True, fancybox=True,
                  framealpha=0.8, edgecolor='#cccccc', handlelength=2.0)
    else:
        lg = ax.get_legend()
        if lg is not None:
            lg.remove()


draw(ax_a, a_period, a_obs, a_nn_lo, a_nn_hi, a_reg_period, a_reg_lo, a_reg_hi,
     (1e-4, 2.88e-2), site_names[0], (0.869, 0.454), panel_tags[0], True)
draw(ax_b, b_period, b_obs, b_nn_lo, b_nn_hi, b_reg_period, b_reg_lo, b_reg_hi,
     (1e-4, 3.57e-2), site_names[1], (0.847, 0.439), panel_tags[1], False)

fig.text(0.477, 0.356, watermark, fontsize=173, family=['Liberation Serif', 'DejaVu Serif'],
         color='black', alpha=0.3, rotation=53, ha='center', va='center',
         rotation_mode='anchor', zorder=50)

fig.savefig('out.png', dpi=100, facecolor='white')
